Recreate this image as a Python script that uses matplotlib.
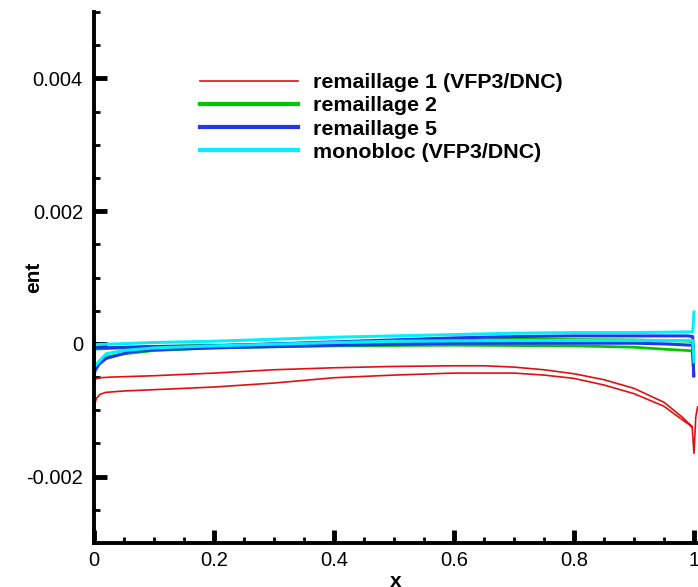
import matplotlib
matplotlib.use('Agg')
import matplotlib.pyplot as plt
from matplotlib.ticker import MultipleLocator, FuncFormatter

# curves are closed loops: lower side TE -> LE, then upper side LE -> TE (+ trailing-edge spike)
red_x = [0.997, 0.98, 0.95, 0.9, 0.85, 0.8, 0.75, 0.7, 0.6, 0.5, 0.4, 0.3, 0.2, 0.1, 0.05, 0.02, 0.01,
         0.004, 0.001, 0.0,
         0.0, 0.002, 0.01, 0.03, 0.1, 0.2, 0.3, 0.4, 0.5, 0.6, 0.65, 0.7, 0.75, 0.8, 0.85, 0.9, 0.95, 0.98,
         0.997, 1.0, 1.003, 1.006]
red_y = [-0.00125, -0.00114, -0.00094, -0.00075, -0.00062, -0.00052, -0.00047, -0.00044, -0.00044, -0.00047,
         -0.00051, -0.00059, -0.00065, -0.00069, -0.00071, -0.00073, -0.00076, -0.00082, -0.00092, -0.00101,
         -0.00056, -0.00053, -0.00051, -0.00050, -0.00048, -0.00044, -0.00039, -0.00036, -0.00034, -0.00033,
         -0.00033, -0.00035, -0.00039, -0.00045, -0.00054, -0.00067, -0.00088, -0.00110, -0.00125, -0.00165,
         -0.00110, -0.00095]

green_x = [0.9995, 0.998, 0.99, 0.95, 0.9, 0.8, 0.6, 0.4, 0.2, 0.1, 0.05, 0.02, 0.005, 0.0,
           0.0, 0.1, 0.3, 0.5, 0.7, 0.9, 0.99, 0.998, 0.9995]
green_y = [-0.00045, -0.00011, -0.00010, -0.00008, -0.00005, -0.00003, -0.00002, -0.00003, -0.00006, -0.00010,
           -0.00015, -0.00020, -0.00030, -0.00038,
           -0.00008, -0.00004, 0.0, 0.00004, 0.00007, 0.00006, 0.00004, 0.00003, -0.00045]

blue_x = [0.9995, 0.998, 0.995, 0.95, 0.9, 0.7, 0.6, 0.4, 0.3, 0.2, 0.1, 0.06, 0.02, 0.008, 0.002, 0.0,
          0.0, 0.01, 0.1, 0.2, 0.3, 0.4, 0.5, 0.6, 0.7, 0.8, 0.9, 0.99, 0.998, 0.9995]
blue_y = [-0.00048, -0.00003, -0.00002, 0.0, 0.00001, 0.00001, 0.00001, -0.00002, -0.00004, -0.00006, -0.00009,
          -0.00012, -0.00022, -0.00031, -0.00040, -0.00048,
          -0.00006, -0.00006, -0.00004, -0.00003, 0.0, 0.00003, 0.00006, 0.00009, 0.00011, 0.00012, 0.00012,
          0.00012, 0.00011, -0.00048]

cyan_x = [1.0, 0.998, 0.99, 0.9, 0.7, 0.5, 0.4, 0.2, 0.1, 0.05, 0.02, 0.005, 0.0,
          0.0, 0.005, 0.1, 0.2, 0.3, 0.4, 0.5, 0.6, 0.7, 0.8, 0.9, 0.99, 0.998, 1.0]
cyan_y = [-0.00027, 0.00005, 0.00005, 0.00005, 0.00005, 0.00004, 0.00002, -0.00003, -0.00006, -0.00010,
          -0.00015, -0.00030, -0.00035,
          -0.00003, -0.00001, 0.00002, 0.00004, 0.00007, 0.00010, 0.00012, 0.00014, 0.00016, 0.00017,
          0.00017, 0.00018, 0.00018, 0.00048]

labels = ['remaillage 1 (VFP3/DNC)', 'remaillage 2', 'remaillage 5', 'monobloc (VFP3/DNC)']

plt.rcParams['font.family'] = ['Liberation Sans', 'DejaVu Sans']
plt.rcParams['axes.unicode_minus'] = False

fig = plt.figure(figsize=(6.98, 5.87), dpi=100)
ax = fig.add_axes([94 / 698, 44 / 587, 604 / 698, 531 / 587])

ax.plot(red_x, red_y, color='#e01010', lw=1.2, label=labels[0])
ax.plot(green_x, green_y, color='#00c800', lw=2.0, label=labels[1])
ax.plot(blue_x, blue_y, color='#2038e8', lw=2.2, label=labels[2])
ax.plot(cyan_x, cyan_y, color='#00f0ff', lw=2.2, label=labels[3])

ax.set_xlim(0, 1.0067)
ax.set_ylim(-0.003, 0.005)
ax.xaxis.set_major_locator(MultipleLocator(0.2))
ax.xaxis.set_minor_locator(MultipleLocator(0.05))
ax.yaxis.set_major_locator(MultipleLocator(0.002))
ax.yaxis.set_minor_locator(MultipleLocator(0.0005))
fmt = FuncFormatter(lambda v, p: '{:g}'.format(round(v, 6)))
ax.xaxis.set_major_formatter(fmt)
ax.yaxis.set_major_formatter(fmt)

for s in ['top', 'right']:
    ax.spines[s].set_visible(False)
for s in ['left', 'bottom']:
    ax.spines[s].set_linewidth(2.8)

ax.tick_params(which='major', direction='in', length=9.5, width=3.5, labelsize=14.5)
ax.tick_params(which='minor', direction='in', length=4.5, width=2.0)
ax.tick_params(axis='y', which='major', pad=8)
ax.tick_params(axis='x', which='major', pad=6)

ax.set_xlabel('x', fontsize=15, fontweight='bold')
ax.set_ylabel('ent', fontsize=15, fontweight='bold')
ax.xaxis.set_label_coords(0.5, -0.054)
ax.yaxis.set_label_coords(-0.085, 0.5)

leg = ax.legend(loc='upper left', bbox_to_anchor=(200 / 698, 1 - 73 / 587), bbox_transform=fig.transFigure,
                frameon=False, prop={'weight': 'bold', 'size': 15.4}, handlelength=4.6, handletextpad=0.7,
                labelspacing=0.2, borderpad=0, borderaxespad=0)
for i, l in enumerate(leg.get_lines()):
    l.set_linewidth(1.2 if i == 0 else 3.0)

fig.savefig('out.png', dpi=100)
